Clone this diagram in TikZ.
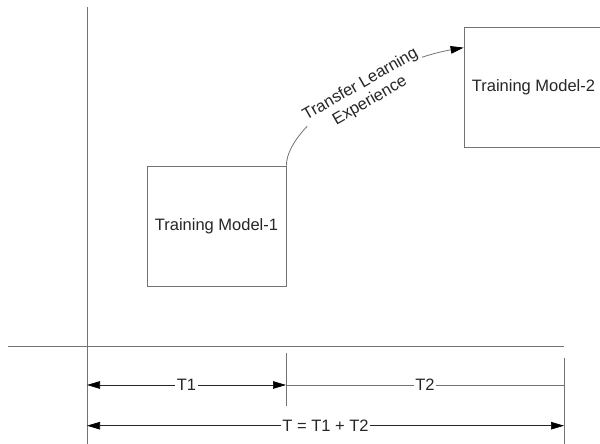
\documentclass[tikz,border=0pt]{standalone}
\usepackage{fontspec}
\setmainfont{Liberation Sans}
\usetikzlibrary{positioning}
\usetikzlibrary{arrows.meta}
\tikzstyle{modelbox}=[rectangle,draw=black!55,line width=0.8pt,minimum width=139pt,minimum height=120pt,inner sep=0pt]
\tikzstyle{axisline}=[draw=black!55,line width=0.8pt]
\tikzstyle{dimline}=[draw=black!85,line width=0.7pt]
\tikzstyle{dimlabel}=[fill=white,inner sep=1.5pt]

\begin{document}
\begin{tikzpicture}[x=1pt,y=1pt,font=\fontsize{16.5}{19}\selectfont,text=black!85,
  >={Triangle[length=13pt,width=7.5pt,color=black]}]

  \useasboundingbox (0,0) rectangle (600,444);

  \def\ya{59};
  \def\yb{18.3};

   \foreach \x/\y/\name/\label in {216.5/218/modelone/1, 533.5/357/modeltwo/2}
          \node[modelbox] (\name) at (\x, \y) {Training Model-\label};

  % axes
  \coordinate (ytop) at (87,436.7);
  \coordinate (ybot) at (87,0);
  \coordinate (xleft) at (8,98);
  \coordinate (xright) at (564,98);
  \draw[axisline] (ytop) -- (ybot);
  \draw[axisline] (xleft) -- (xright);

  % ticks
  \coordinate (midtop) at (286,91);
  \coordinate (midbot) at (286,38);
  \coordinate (endtop) at (564,86);
  \coordinate (endbot) at (564,0);
  \draw[axisline] (midtop) -- (midbot);
  \draw[axisline] (endtop) -- (endbot);

  % time spans
  \coordinate (t0) at (87,\ya);
  \coordinate (t1) at (286,\ya);
  \coordinate (t2) at (564,\ya);
  \coordinate (s0) at (87,\yb);
  \coordinate (s2) at (564,\yb);
  \draw[dimline,<->] (t0) -- node[dimlabel] (lblone) {T1} (t1);
  \draw[axisline] (t1) -- node[dimlabel] (lbltwo) {T2} (t2);
  \draw[dimline,<->] (s0) -- node[dimlabel] (lblsum) {T = T1 + T2} (s2);

  % transfer
  \coordinate[below=21pt of modeltwo.north west] (entry);
  \draw[axisline,->] (modelone.north east) to[out=90,in=190,out looseness=0.5,in looseness=1.0]
     node[sloped,pos=0.58,yshift=-8pt,fill=white,align=center,inner xsep=2pt,inner ysep=0pt] (lbltransfer) {Transfer Learning\\Experience} (entry);

   \end{tikzpicture}
\end{document}
